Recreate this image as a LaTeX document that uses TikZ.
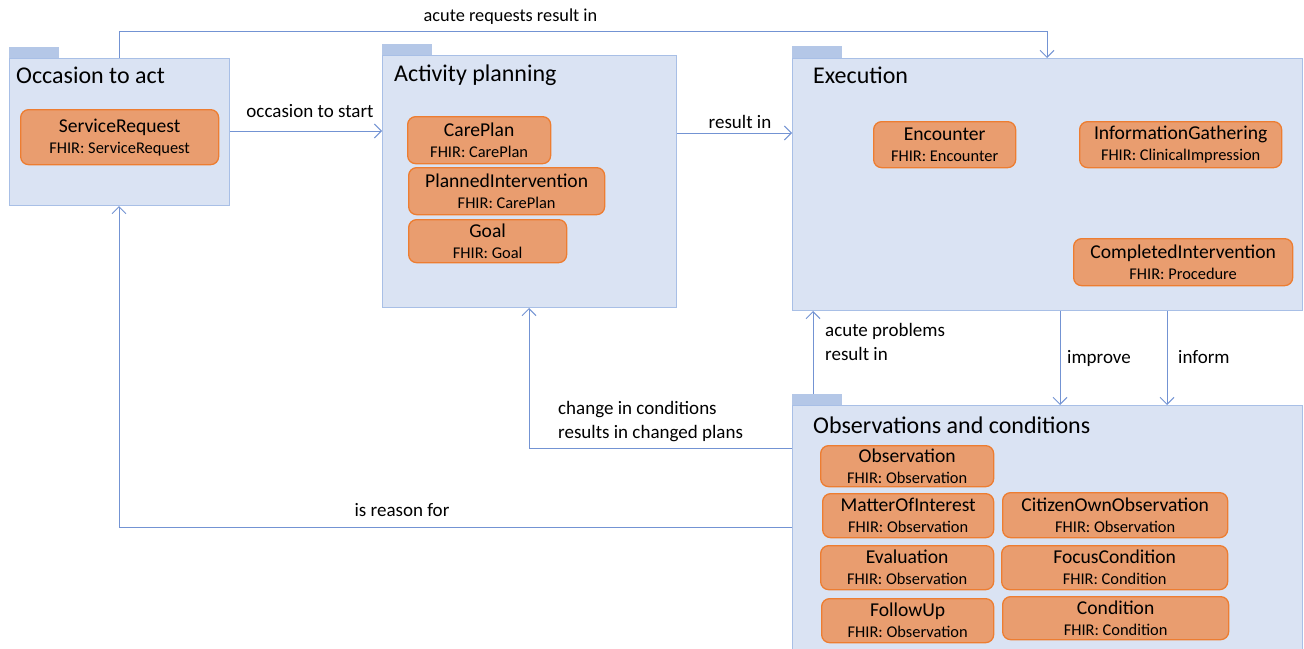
\documentclass[tikz,border=0pt]{standalone}
\usepackage{fontspec}
\setmainfont{Carlito}
\usetikzlibrary{arrows.meta}
\definecolor{pkgfill}{HTML}{DAE3F3}
\definecolor{pkgline}{HTML}{A8BFE6}
\definecolor{tabc}{HTML}{B4C7E7}
\definecolor{conn}{HTML}{7393D3}
\definecolor{elfill}{HTML}{E99D6F}
\definecolor{elline}{HTML}{ED7D31}
\newcommand\elemtext[2]{{\fontsize{19.6}{21}\selectfont #1}\\{\fontsize{16.4}{21}\selectfont FHIR: #2}}
\tikzset{
  pkg/.style={draw=pkgline, fill=pkgfill, line width=1pt, rectangle, inner sep=0pt, anchor=north west},
  tabbox/.style={fill=tabc, draw=none, rectangle, inner sep=0pt, anchor=south west, minimum width=50pt, minimum height=11pt},
  elem/.style={draw=elline, fill=elfill, line width=1.3pt, rounded corners=8pt, inner sep=0pt, anchor=north west, align=center, font=\fontsize{19.6}{21}\selectfont},
  ptitle/.style={anchor=west, inner sep=0pt, font=\fontsize{24}{28}\selectfont},
  lbl/.style={inner sep=0pt, font=\fontsize{19}{24}\selectfont},
  conn/.style={draw=conn, line width=1pt, -{Straight Barb[length=7pt, width=14pt, line width=1pt]}}
}
\begin{document}
\begin{tikzpicture}[x=1pt, y=-1pt]
\useasboundingbox (0,0) rectangle (1304,648);
% packages
\node[pkg, minimum width=220pt, minimum height=147pt] (p1) at (9,58) {};
\node[tabbox] (t1) at (p1.north west) {};
\node[ptitle] (p1t) at (16,75) {Occasion to act};

\node[pkg, minimum width=294pt, minimum height=252pt] (p2) at (382,55) {};
\node[tabbox] (t2) at (p2.north west) {};
\node[ptitle] (p2t) at (394,75) {Activity planning};

\node[pkg, minimum width=510pt, minimum height=252pt] (p3) at (792,58) {};
\node[tabbox, minimum height=12pt] (t3) at (p3.north west) {};
\node[ptitle] (p3t) at (813,75) {Execution};

\node[pkg, minimum width=510pt, minimum height=250pt] (p4) at (792,405) {};
\node[tabbox] (t4) at (p4.north west) {};
\node[ptitle] (p4t) at (813,425) {Observations and conditions};

% elements
\node[elem, minimum width=198pt, minimum height=55pt] (sr) at (20,109) {\elemtext{ServiceRequest}{ServiceRequest}};
\node[elem, minimum width=143pt, minimum height=47pt] (cp) at (407,116) {\elemtext{CarePlan}{CarePlan}};
\node[elem, minimum width=196pt, minimum height=47pt] (pi) at (408,167) {\elemtext{PlannedIntervention}{CarePlan}};
\node[elem, minimum width=158pt, minimum height=43pt] (goal) at (408,219) {\elemtext{Goal}{Goal}};
\node[elem, minimum width=142pt, minimum height=46pt] (enc) at (873,121) {\elemtext{Encounter}{Encounter}};
\node[elem, minimum width=202pt, minimum height=46pt] (ig) at (1079,121) {\elemtext{InformationGathering}{ClinicalImpression}};
\node[elem, minimum width=219pt, minimum height=47pt] (ci) at (1073,238) {\elemtext{CompletedIntervention}{Procedure}};
\node[elem, minimum width=173pt, minimum height=41pt] (obs) at (820,445) {\elemtext{Observation}{Observation}};
\node[elem, minimum width=171pt, minimum height=44pt] (moi) at (822,493) {\elemtext{MatterOfInterest}{Observation}};
\node[elem, minimum width=225pt, minimum height=45pt] (coo) at (1002,492) {\elemtext{CitizenOwnObservation}{Observation}};
\node[elem, minimum width=173pt, minimum height=44pt] (ev) at (820,545) {\elemtext{Evaluation}{Observation}};
\node[elem, minimum width=226pt, minimum height=44pt] (fc) at (1001,545) {\elemtext{FocusCondition}{Condition}};
\node[elem, minimum width=172pt, minimum height=44pt] (fu) at (821,598) {\elemtext{FollowUp}{Observation}};
\node[elem, minimum width=226pt, minimum height=43pt] (cond) at (1002,596) {\elemtext{Condition}{Condition}};

% connectors
\draw[conn] ([xshift=110pt]p1.north west) -- ++(0,-27) -| ([xshift=255pt]p3.north west);
\node[lbl, font=\fontsize{18.3}{24}\selectfont] (l1) at (510.5,17) {acute requests result in};

\draw[conn] ([yshift=-73pt]p1.north east) -- ([yshift=-76pt]p2.north west);
\node[lbl] (l2) at (310,111) {occasion to start};

\draw[conn] ([yshift=-78pt]p2.north east) -- ([yshift=-75pt]p3.north west);
\node[lbl] (l3) at (740,122) {result in};

\draw[conn] ([xshift=21pt]t4.north west) -- ([xshift=21pt]p3.south west);
\node[lbl, anchor=west, align=left] (l4) at (825,342) {acute problems\\result in};

\draw[conn] ([xshift=268pt]p3.south west) -- ([xshift=268pt]p4.north west);
\node[lbl, anchor=west] (l5) at (1067,358) {improve};

\draw[conn] ([xshift=375pt]p3.south west) -- ([xshift=375pt]p4.north west);
\node[lbl, anchor=west] (l6) at (1178,357) {inform};

\draw[conn] ([yshift=-43pt]p4.north west) -| ([xshift=147pt]p2.south west);
\node[lbl, anchor=west, align=left] (l7) at (558,422) {change in conditions\\results in changed plans};

\draw[conn] ([yshift=-122pt]p4.north west) -| ([xshift=110pt]p1.south west);
\node[lbl] (l8) at (402,510) {is reason for};
\end{tikzpicture}
\end{document}
